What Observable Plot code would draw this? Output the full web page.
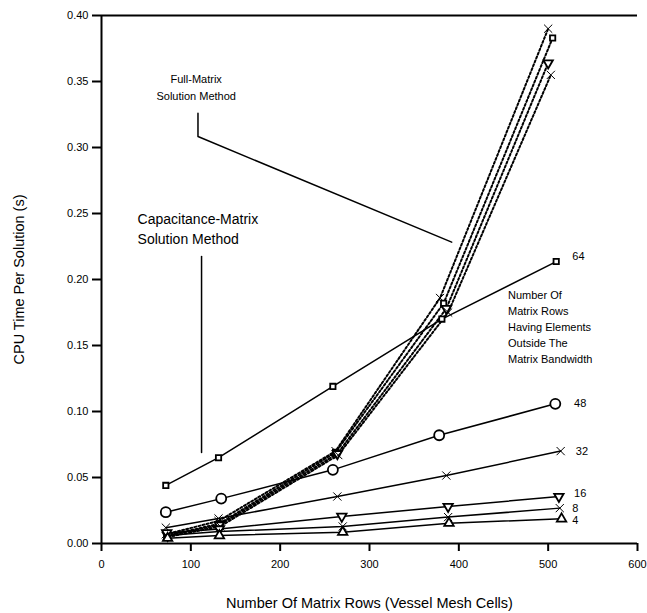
<!DOCTYPE html>
<html>
<head>
<meta charset="utf-8">
<script src="https://cdn.jsdelivr.net/npm/d3@7"></script>
<script src="https://cdn.jsdelivr.net/npm/@observablehq/plot@0.6"></script>
<style>
  html, body { margin: 0; padding: 0; background: #fff; }
  #chart svg { font-family: "Liberation Sans", Arial, sans-serif; }
</style>
</head>
<body>
<div id="chart"></div>
<script>
// ---- Capacitance-matrix solution method (solid lines) ----
const cap64X = [72, 131, 259, 381, 509];
const cap64Y = [0.044, 0.065, 0.119, 0.170, 0.2136];
const cap48X = [72, 134, 259, 378, 508];
const cap48Y = [0.0237, 0.034, 0.0558, 0.082, 0.1058];
const cap32X = [72, 131, 264, 386, 514];
const cap32Y = [0.012, 0.019, 0.0356, 0.0515, 0.070];
const cap16X = [73, 132, 269, 388, 512];
const cap16Y = [0.008, 0.011, 0.0205, 0.028, 0.0356];
const cap8X = [73, 132, 270, 388, 513];
const cap8Y = [0.006, 0.009, 0.0129, 0.020, 0.0268];
const cap4X = [74, 132, 270, 389, 515];
const cap4Y = [0.004, 0.006, 0.0086, 0.0154, 0.0187];

// ---- Full-matrix solution method (dotted lines) ----
const fullAX = [72, 131, 262, 379, 500];
const fullAY = [0.007, 0.017, 0.070, 0.186, 0.390];
const fullBX = [73, 132, 262, 383, 505];
const fullBY = [0.006, 0.015, 0.069, 0.182, 0.383];
const fullCX = [74, 132, 264, 386, 500];
const fullCY = [0.006, 0.014, 0.068, 0.178, 0.364];
const fullDX = [75, 133, 265, 388, 503];
const fullDY = [0.005, 0.013, 0.067, 0.175, 0.355];

// ---- Series labels (number of rows outside bandwidth) ----
const labelText = ["64", "48", "32", "16", "8", "4"];
const labelX = [527, 529, 531, 529, 527, 527];
const labelY = [0.2174, 0.106, 0.0697, 0.0379, 0.0265, 0.0174];

// ---- Ticks ----
const xTicks = [0, 100, 200, 300, 400, 500, 600];
const yTicks = [0, 0.05, 0.10, 0.15, 0.20, 0.25, 0.30, 0.35, 0.40];

// ---- Annotations ----
const fullNote = "Full-Matrix\nSolution Method";
const fullNoteX = [106];
const fullNoteY = [0.3575];
const fullLeaderX = [108, 108, 392];
const fullLeaderY = [0.326, 0.3083, 0.2283];
const capNote = "Capacitance-Matrix\nSolution Method";
const capNoteX = [40.4];
const capNoteY = [0.253];
const capLeaderX = [112, 112];
const capLeaderY = [0.2174, 0.069];
const rowsNote = "Number Of\nMatrix Rows\nHaving Elements\nOutside The\nMatrix Bandwidth";
const rowsNoteX = [455];
const rowsNoteY = [0.1935];

// custom downward triangle symbol
const triangleDown = {
  draw(context, size) {
    const s = Math.sqrt(size) * 0.6824;
    const t = s / 2;
    const u = s * Math.sqrt(3) / 2;
    context.moveTo(0, s);
    context.lineTo(u, -t);
    context.lineTo(-u, -t);
    context.closePath();
  }
};

const zip = (xs, ys) => xs.map((x, i) => ({x, y: ys[i]}));

const capSeries = [
  {pts: zip(cap64X, cap64Y), symbol: "square", r: 3},
  {pts: zip(cap48X, cap48Y), symbol: "circle", r: 5},
  {pts: zip(cap32X, cap32Y), symbol: "times", r: 3.8},
  {pts: zip(cap16X, cap16Y), symbol: triangleDown, r: 4.5},
  {pts: zip(cap8X, cap8Y), symbol: "times", r: 3.8},
  {pts: zip(cap4X, cap4Y), symbol: "triangle2", r: 4.5}
];
const fullSeries = [
  {pts: zip(fullAX, fullAY), symbol: "times", r: 3.8},
  {pts: zip(fullBX, fullBY), symbol: "square", r: 3},
  {pts: zip(fullCX, fullCY), symbol: triangleDown, r: 4.5},
  {pts: zip(fullDX, fullDY), symbol: "times", r: 3.8}
];

const marks = [];
// axis lines and top frame
marks.push(Plot.ruleY([0.4], {stroke: "black", strokeWidth: 2}));
marks.push(Plot.ruleX([0], {stroke: "black", strokeWidth: 2}));
marks.push(Plot.ruleY([0], {stroke: "black", strokeWidth: 2}));

// leader lines
marks.push(Plot.line(zip(fullLeaderX, fullLeaderY), {x: "x", y: "y", stroke: "black", strokeWidth: 1.5}));
marks.push(Plot.line(zip(capLeaderX, capLeaderY), {x: "x", y: "y", stroke: "black", strokeWidth: 1.5}));

for (const s of fullSeries) {
  marks.push(Plot.line(s.pts, {x: "x", y: "y", stroke: "black", strokeWidth: 2, strokeDasharray: "2,2.2"}));
}
for (const s of capSeries) {
  marks.push(Plot.line(s.pts, {x: "x", y: "y", stroke: "black", strokeWidth: 1.5}));
}
for (const s of fullSeries.concat(capSeries)) {
  marks.push(Plot.dot(s.pts, {x: "x", y: "y", symbol: s.symbol, r: s.r, stroke: "black", strokeWidth: s.symbol === "times" ? 1 : 1.8, fill: "white"}));
}

// series labels
marks.push(Plot.text(labelText.map((t, i) => ({t, x: labelX[i], y: labelY[i]})), {
  x: "x", y: "y", text: "t", textAnchor: "start", fontSize: 11, fill: "black"
}));

// annotations
marks.push(Plot.text([{x: fullNoteX[0], y: fullNoteY[0]}], {x: "x", y: "y", text: () => fullNote, textAnchor: "middle", lineAnchor: "top", lineHeight: 1.5, fontSize: 11, fill: "black"}));
marks.push(Plot.text([{x: capNoteX[0], y: capNoteY[0]}], {x: "x", y: "y", text: () => capNote, textAnchor: "start", lineAnchor: "top", lineHeight: 1.42, fontSize: 14, fill: "black"}));
marks.push(Plot.text([{x: rowsNoteX[0], y: rowsNoteY[0]}], {x: "x", y: "y", text: () => rowsNote, textAnchor: "start", lineAnchor: "top", lineHeight: 1.45, fontSize: 11, fill: "black"}));

// axes
marks.push(Plot.axisX(xTicks, {
  tickSize: 8, tickPadding: 9, strokeWidth: 2, fontSize: 11, label: null
}));
marks.push(Plot.axisX({
  ticks: [], label: "Number Of Matrix Rows (Vessel Mesh Cells)", labelAnchor: "center", labelOffset: 64, labelArrow: "none", fontSize: 14.5
}));
marks.push(Plot.axisY(yTicks, {
  tickSize: 9, tickPadding: 4, strokeWidth: 2, fontSize: 11, tickFormat: d3.format(".2f"), label: null
}));
marks.push(Plot.axisY({
  ticks: [], label: "CPU Time Per Solution (s)", labelAnchor: "center", labelOffset: 88, labelArrow: "none", fontSize: 14.5
}));

const chart = Plot.plot({
  width: 647,
  height: 613,
  marginLeft: 101,
  marginRight: 10,
  marginTop: 15,
  marginBottom: 70,
  x: {domain: [0, 600]},
  y: {domain: [0, 0.4]},
  style: {fontFamily: "'Liberation Sans', Arial, sans-serif", fontSize: "11px", background: "white", color: "black"},
  marks
});
document.getElementById("chart").appendChild(chart);
</script>
</body>
</html>
